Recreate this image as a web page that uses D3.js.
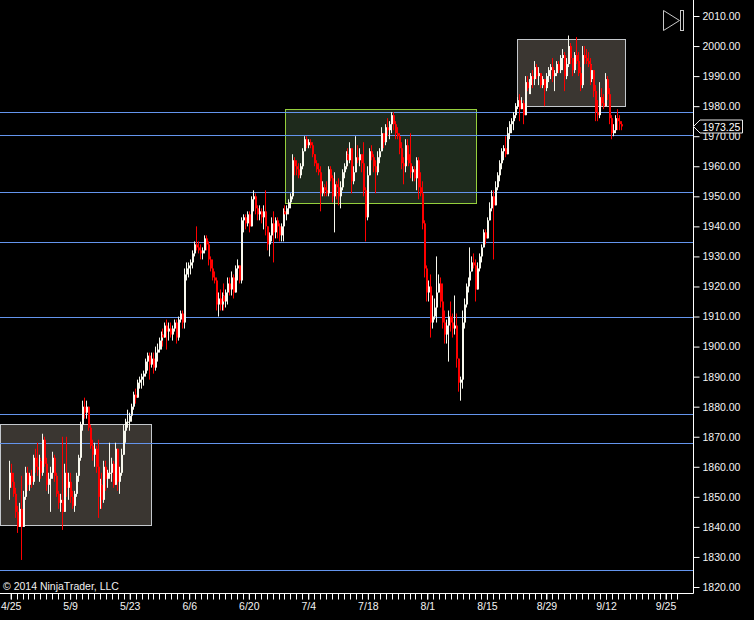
<!DOCTYPE html>
<html><head><meta charset="utf-8">
<script src="https://cdnjs.cloudflare.com/ajax/libs/d3/7.8.5/d3.min.js"></script>
<style>html,body{margin:0;padding:0;background:#000;overflow:hidden}svg{display:block}</style>
</head><body><svg id="chart" width="754" height="620"></svg>
<script>
// ---------- data ----------
const highs = [
1862,1861,1858,1853,1847,1848,1857,1852,1860,1860,
1858,1859,1864,1866,1868,1864,1863,1871,1870,1863,
1858,1860,1865,1864,1858,1852,1851,1870,1861,1870,
1858,1858,1852,1852,1858,1864,1875,1882,1883,1882,
1880,1874,1869,1868,1867,1869,1856,1858,1862,1862,
1859,1868,1863,1862,1868,1864,1860,1866,1874,1876,
1879,1878,1881,1885,1886,1889,1890,1891,1892,1896,
1898,1898,1898,1898,1900,1901,1903,1905,1906,1908,
1909,1908,1908,1907,1909,1909,1910,1912,1912,1926,
1928,1928,1929,1932,1935,1940,1935,1934,1933,1937,
1937,1935,1930,1929,1925,1923,1918,1919,1918,1921,
1919,1923,1923,1925,1924,1927,1929,1927,1943,1944,
1944,1945,1945,1950,1952,1951,1947,1947,1946,1947,
1952,1940,1938,1943,1945,1943,1943,1941,1941,1946,
1947,1947,1949,1951,1964,1963,1962,1961,1961,1966,
1970,1970,1969,1969,1968,1964,1962,1961,1960,1955,
1954,1955,1960,1960,1957,1958,1955,1956,1955,1959,
1961,1965,1966,1968,1966,1960,1970,1967,1966,1963,
1968,1953,1960,1966,1967,1964,1962,1965,1966,1973,
1971,1974,1976,1975,1978,1978,1975,1973,1971,1968,
1963,1969,1969,1966,1971,1960,1960,1963,1963,1958,
1955,1942,1927,1922,1924,1917,1916,1930,1924,1923,
1921,1912,1909,1912,1915,1911,1917,1911,1895,1890,
1912,1916,1921,1923,1933,1930,1931,1929,1928,1931,
1934,1939,1939,1943,1948,1952,1952,1955,1958,1962,
1966,1967,1970,1973,1975,1976,1978,1981,1983,1984,
1983,1982,1990,1990,1989,1991,1992,1995,1994,1993,
1991,1990,1988,1991,1993,1994,1996,1992,1995,1995,
1997,1999,1998,1996,2003.5,2001,1996,1998,2003,1998,
1993,2000,2000,1999,1998,1996,1994,1990,1987,1982,
1988,1986,1984,1991,1990,1986,1977,1974,1977,1979,
1977,1975];
const lows = [
1849,1853,1850,1843,1838,1842,1829,1840,1849,1852,
1852,1853,1854,1858,1857,1855,1856,1857,1860,1852,
1851,1845,1856,1855,1850,1846,1845,1839,1848,1850,
1849,1848,1846,1845,1850,1855,1862,1872,1876,1876,
1872,1866,1862,1860,1858,1843,1846,1846,1848,1852,
1853,1856,1855,1853,1857,1852,1851,1857,1864,1868,
1873,1872,1875,1879,1881,1883,1886,1886,1887,1890,
1892,1889,1893,1891,1892,1895,1898,1899,1900,1903,
1899,1902,1903,1902,1905,1901,1902,1908,1906,1906,
1922,1923,1924,1926,1930,1932,1931,1929,1929,1931,
1932,1927,1925,1922,1921,1912,1910,1912,1912,1912,
1913,1914,1917,1917,1916,1918,1922,1921,1921,1938,
1939,1940,1938,1940,1945,1944,1942,1942,1941,1939,
1937,1932,1930,1935,1928,1936,1936,1935,1935,1935,
1943,1942,1944,1946,1949,1957,1957,1956,1956,1959,
1965,1966,1966,1966,1963,1960,1958,1957,1945,1950,
1950,1950,1950,1955,1948,1938,1949,1947,1946,1952,
1956,1959,1960,1961,1951,1954,1958,1961,1960,1958,
1950,1935,1942,1957,1962,1958,1951,1957,1961,1965,
1966,1967,1970,1969,1971,1972,1969,1969,1964,1959,
1954,1958,1962,1960,1956,1955,1955,1952,1949,1950,
1939,1923,1915,1915,1903,1906,1909,1908,1918,1913,
1906,1901,1901,1895,1905,1903,1904,1893,1885,1882,
1886,1906,1913,1918,1921,1925,1926,1915,1919,1925,
1928,1933,1934,1936,1942,1945,1929,1947,1952,1955,
1959,1962,1963,1964,1969,1971,1972,1976,1979,1975,
1979,1974,1977,1985,1984,1984,1986,1987,1989,1987,
1986,1986,1980,1985,1988,1989,1988,1985,1990,1991,
1991,1992,1985,1989,1993,1994,1990,1991,1994,1990,
1985,1986,1994,1994,1993,1987,1988,1983,1975,1975,
1976,1980,1979,1981,1982,1974,1969,1970,1971,1972,
1972,1972];
const closes = [
1858,1855,1851,1845,1840,1846,1840,1850,1858,1854,
1857,1855,1863,1860,1859,1862,1858,1869,1861,1854,
1856,1858,1863,1857,1851,1848,1849,1845,1858,1853,
1855,1850,1847,1851,1857,1863,1874,1880,1878,1880,
1873,1867,1864,1866,1860,1850,1854,1849,1860,1856,
1858,1858,1861,1854,1866,1855,1858,1864,1872,1875,
1875,1877,1880,1884,1883,1888,1889,1890,1891,1895,
1897,1894,1896,1893,1898,1899,1902,1904,1903,1907,
1905,1906,1904,1906,1908,1903,1909,1911,1908,1924,
1926,1927,1928,1931,1934,1933,1932,1931,1932,1936,
1934,1929,1926,1923,1922,1914,1916,1914,1917,1915,
1918,1921,1919,1923,1918,1926,1927,1922,1942,1943,
1941,1944,1940,1949,1950,1946,1944,1945,1943,1945,
1940,1934,1937,1941,1938,1942,1940,1937,1940,1945,
1944,1946,1948,1950,1962,1960,1959,1957,1960,1965,
1969,1967,1968,1967,1964,1961,1959,1958,1951,1953,
1952,1951,1959,1956,1950,1954,1953,1950,1953,1958,
1960,1964,1962,1966,1955,1958,1963,1962,1964,1961,
1952,1943,1957,1965,1963,1960,1958,1963,1965,1971,
1968,1973,1972,1974,1977,1974,1971,1970,1966,1961,
1960,1967,1964,1961,1958,1959,1956,1962,1953,1951,
1941,1926,1918,1920,1908,1910,1913,1918,1921,1915,
1908,1904,1907,1910,1908,1906,1907,1896,1888,1889,
1908,1914,1920,1922,1925,1928,1927,1919,1926,1930,
1933,1938,1936,1942,1946,1950,1947,1953,1957,1961,
1965,1966,1964,1971,1974,1975,1977,1980,1982,1979,
1981,1977,1988,1986,1987,1990,1989,1993,1990,1991,
1987,1989,1986,1990,1992,1993,1990,1991,1994,1992,
1996,1997,1990,1994,2000,1996,1992,1997,1995,1991,
1987,1997,1996,1995,1994,1989,1992,1985,1978,1977,
1983,1981,1980,1989,1984,1976,1971,1972,1976,1975,
1974,1973.25];
const firstOpen = 1853;

const priceTicks = d3.range(1820, 2011, 10);
const dateLabels = ["4/25","5/9","5/23","6/6","6/20","7/4","7/18","8/1","8/15","8/29","9/12","9/25"];
const labelDays  = [0,10,20,30,40,50,60,70,80,90,100,110];
const minorDays  = d3.range(0, 113);

// horizontal price levels
const levels = [1978.0,1970.3,1951.3,1934.8,1909.7,1877.6,1867.8,1825.5];
// rectangles (day units / prices)
const boxStart  = [-1.8, 46.1, 85.1];
const boxEnd    = [23.5, 78.1, 103.2];
const boxTop    = [1874.1, 1978.9, 2002.2];
const boxBottom = [1840.5, 1947.7, 1980.0];
const boxFill   = ["#3a3631", "#1e2a1c", "#3a3631"];
const boxStroke = ["#c4c8cc", "#95cf3c", "#c4c8cc"];

const lastPrice = closes[closes.length - 1];

// ---------- drawing ----------
const FONT = "'Liberation Sans', Arial, sans-serif";
const svg = d3.select("#chart");
svg.append("rect").attr("width",754).attr("height",620).attr("fill","#000");

const AXIS_X = 693.5, AXIS_Y = 593.5;
const y = d3.scaleLinear().domain([1820, 2010]).range([587, 16]);
const xDate = d3.scaleLinear().domain([0, 100]).range([10.6, 606]);
const xBar = d3.scaleLinear().domain([0, closes.length - 1]).range([9, 621]);

// boxes
const boxes = boxStart.map((s, i) => ({s, e: boxEnd[i], t: boxTop[i], b: boxBottom[i], f: boxFill[i], st: boxStroke[i]}));
svg.append("g").selectAll("rect").data(boxes).join("rect")
  .attr("x", d => Math.max(0.5, Math.round(xDate(d.s)) + 0.5))
  .attr("y", d => Math.round(y(d.t)) + 0.5)
  .attr("width", d => Math.round(xDate(d.e)) - Math.max(0, Math.round(xDate(d.s))))
  .attr("height", d => Math.round(y(d.b)) - Math.round(y(d.t)))
  .attr("fill", d => d.f).attr("stroke", d => d.st).attr("stroke-width", 1);

// levels
svg.append("g").selectAll("line").data(levels).join("line")
  .attr("x1", 0).attr("x2", AXIS_X)
  .attr("y1", d => Math.round(y(d)) + 0.5).attr("y2", d => Math.round(y(d)) + 0.5)
  .attr("stroke", "#6495ed").attr("stroke-width", 1);

// candles
const bars = closes.map((c, i) => ({i, o: i ? closes[i-1] : firstOpen, h: highs[i], l: lows[i], c}));
const UP = "#f8f8ee", DN = "#ff0000";
const cg = svg.append("g");
cg.selectAll("line").data(bars).join("line")
  .attr("x1", d => Math.round(xBar(d.i)) + 0.5).attr("x2", d => Math.round(xBar(d.i)) + 0.5)
  .attr("y1", d => y(Math.max(d.h, d.o, d.c))).attr("y2", d => y(Math.min(d.l, d.o, d.c)))
  .attr("stroke", d => d.c >= d.o ? UP : DN).attr("stroke-width", 1);
cg.selectAll("rect").data(bars).join("rect")
  .attr("x", d => Math.round(xBar(d.i))).attr("width", 2)
  .attr("y", d => y(Math.max(d.o, d.c)))
  .attr("height", d => Math.max(1, Math.abs(y(d.o) - y(d.c))))
  .attr("fill", d => d.c >= d.o ? UP : DN);

// right price axis
const yAxis = d3.axisRight(y).tickValues(priceTicks).tickFormat(d3.format(".2f")).tickSize(6).tickPadding(3);
const ya = svg.append("g").attr("transform", `translate(${AXIS_X},0)`).call(yAxis);
ya.select(".domain").remove();
ya.selectAll("line").attr("stroke", "#fff");
ya.selectAll("text").attr("fill", "#f4f4f4").style("font-family", FONT).style("font-size", "10.5px");
svg.append("line").attr("x1", AXIS_X).attr("x2", AXIS_X).attr("y1", 0).attr("y2", AXIS_Y).attr("stroke", "#fff");

// bottom date axis
svg.append("line").attr("x1", 0).attr("x2", AXIS_X).attr("y1", AXIS_Y).attr("y2", AXIS_Y).attr("stroke", "#fff");
svg.append("g").selectAll("line").data(minorDays).join("line")
  .attr("x1", d => Math.round(xDate(d)) + 0.5).attr("x2", d => Math.round(xDate(d)) + 0.5)
  .attr("y1", AXIS_Y).attr("y2", AXIS_Y + 6).attr("stroke", "#fff");
const xAxis = d3.axisBottom(xDate).tickValues(labelDays).tickFormat((d, i) => dateLabels[i]).tickSize(6).tickPadding(3);
const xa = svg.append("g").attr("transform", `translate(0,${AXIS_Y})`).call(xAxis);
xa.select(".domain").remove();
xa.selectAll("line").attr("stroke", "#fff");
xa.selectAll("text").attr("fill", "#f4f4f4").style("font-family", FONT).style("font-size", "10.5px");

// last price marker
const ly = Math.round(y(lastPrice)) + 0.5;
svg.append("path")
  .attr("d", `M${AXIS_X},${ly} L${AXIS_X + 6.5},${ly - 6.5} L742.5,${ly - 6.5} L742.5,${ly + 6.5} L${AXIS_X + 6.5},${ly + 6.5} Z`)
  .attr("fill", "#000").attr("stroke", "#e8e8e8").attr("stroke-width", 1);
svg.append("text").attr("x", 702.5).attr("y", ly + 4).text(d3.format(".2f")(lastPrice))
  .attr("fill", "#fff").style("font-family", FONT).style("font-size", "10.5px");

// play/scroll icon
svg.append("path").attr("d", "M663.5,10.5 L679.5,20.5 L663.5,30.5 Z").attr("fill", "none").attr("stroke", "#c8c8c8");
svg.append("rect").attr("x", 680.5).attr("y", 10.5).attr("width", 3).attr("height", 20).attr("fill", "none").attr("stroke", "#c8c8c8");

// copyright
svg.append("text").attr("x", 3).attr("y", 590).text("© 2014 NinjaTrader, LLC")
  .attr("fill", "#f0f0f0").style("font-family", FONT).style("font-size", "10.5px");
</script>
</body></html>
